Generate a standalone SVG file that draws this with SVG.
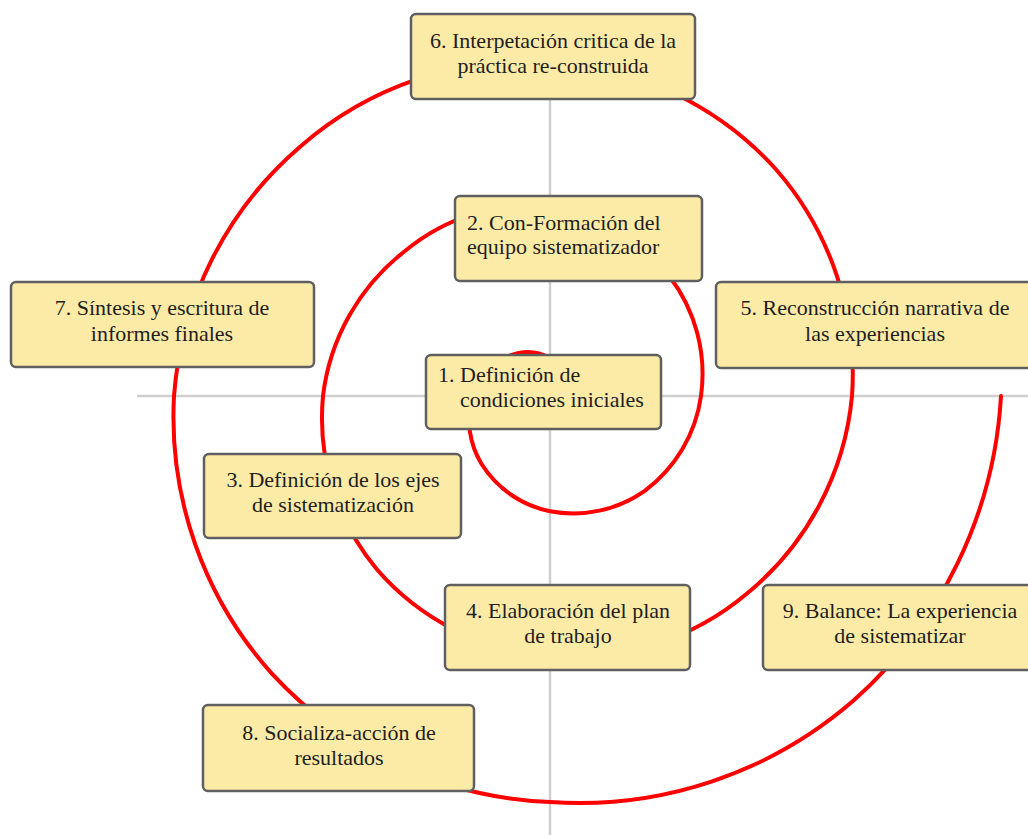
<svg xmlns="http://www.w3.org/2000/svg" width="1028" height="835" viewBox="0 0 1028 835">
<style>
.axis{stroke:#cfcfcf;stroke-width:2.5;fill:none}
.spiral{stroke:#ff0000;stroke-width:4;fill:none;stroke-linecap:round}
.box{fill:#fceba7;stroke:#5f5f5f;stroke-width:2.5}
.t{font-family:"Liberation Serif","Times New Roman",serif;font-size:22px;fill:#1e1e1e}
.c{text-anchor:middle}
</style>
<rect width="1028" height="835" fill="#ffffff"/>
<g id="connectors">
<line class="axis" x1="550" y1="60" x2="550" y2="835"/>
<line class="axis" x1="137" y1="396" x2="1028" y2="396"/>
<path class="spiral" d="M565.6,380.4 A30,30 0 0 0 550,358 A47.5,47.5 0 0 0 509.7,355.7 A67.5,67.5 0 0 0 472,396 A87.3,87.3 0 0 0 481.7,464.3 A106,106 0 0 0 550,511.3 A124.7,124.7 0 0 0 644.8,490.8 A142.5,142.5 0 0 0 701,396 A160,160 0 0 0 669.5,276.5 A179.5,179.5 0 0 0 550,206.1 A197.5,197.5 0 0 0 405,251 A216,216 0 0 0 323,396 A236,236 0 0 0 376.8,569.2 A252.5,252.5 0 0 0 550,656 A269.5,269.5 0 0 0 747.3,593.3 A290.5,290.5 0 0 0 852,396 A311,311 0 0 0 776.3,169.7 A327,327 0 0 0 550,62 A343.5,343.5 0 0 0 300.4,146.4 A364.5,364.5 0 0 0 174,396 A384.5,384.5 0 0 0 272.1,673.9 A399.5,399.5 0 0 0 550,802 A418,418 0 0 0 854.1,700.1 A440.5,440.5 0 0 0 1001,396"/>
</g>
<g id="n6">
<rect class="box" x="411" y="14" width="284" height="85" rx="5"/>
<text class="t c" x="553" y="48">6. Interpetación critica de la</text>
<text class="t c" x="553" y="73">práctica re-construida</text>
</g>
<g id="n2">
<rect class="box" x="455" y="196" width="247" height="85" rx="5"/>
<text class="t" x="467" y="230">2. Con-Formación del</text>
<text class="t" x="467" y="254">equipo sistematizador</text>
</g>
<g id="n7">
<rect class="box" x="11" y="282" width="303" height="85" rx="5"/>
<text class="t c" x="162" y="315">7. Síntesis y escritura de</text>
<text class="t c" x="162" y="341">informes finales</text>
</g>
<g id="n5">
<rect class="box" x="716" y="282" width="318" height="86" rx="5"/>
<text class="t c" x="875" y="315">5. Reconstrucción narrativa de</text>
<text class="t c" x="875" y="341">las experiencias</text>
</g>
<g id="n1">
<rect class="box" x="426" y="355" width="235" height="74" rx="5"/>
<text class="t" x="438" y="382">1. Definición de</text>
<text class="t" x="460" y="407">condiciones iniciales</text>
</g>
<g id="n3">
<rect class="box" x="204" y="454" width="257" height="84" rx="5"/>
<text class="t c" x="333" y="487">3. Definición de los ejes</text>
<text class="t c" x="333" y="512">de sistematización</text>
</g>
<g id="n4">
<rect class="box" x="445" y="585" width="245" height="85" rx="5"/>
<text class="t c" x="568" y="618">4. Elaboración del plan</text>
<text class="t c" x="568" y="643">de trabajo</text>
</g>
<g id="n9">
<rect class="box" x="763" y="585" width="274" height="85" rx="5"/>
<text class="t c" x="900" y="618">9. Balance: La experiencia</text>
<text class="t c" x="900" y="643">de sistematizar</text>
</g>
<g id="n8">
<rect class="box" x="203" y="705" width="271" height="86" rx="5"/>
<text class="t c" x="339" y="740">8. Socializa-acción de</text>
<text class="t c" x="339" y="765">resultados</text>
</g>
</svg>
